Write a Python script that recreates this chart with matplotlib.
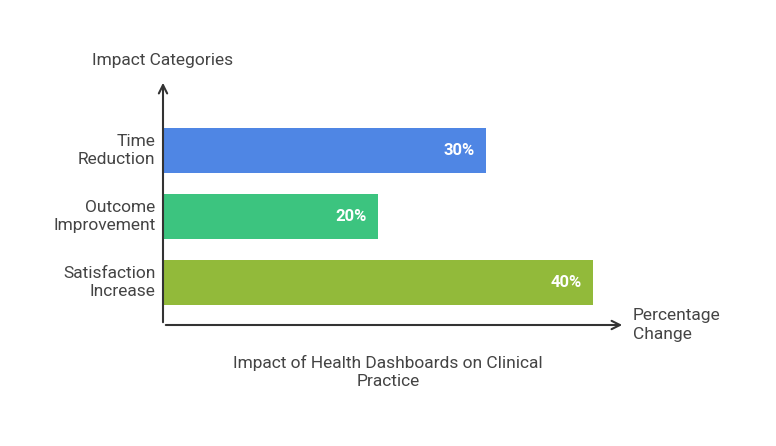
import matplotlib
matplotlib.use("Agg")
import matplotlib.pyplot as plt

categories = ["Time\nReduction", "Outcome\nImprovement", "Satisfaction\nIncrease"]
values = [30, 20, 40]
labels = ["30%", "20%", "40%"]
colors = ["#4F86E4", "#3CC47F", "#92BA3A"]

plt.rcParams['font.family'] = ['Roboto', 'DejaVu Sans']
W, H = 776, 446
fig = plt.figure(figsize=(W/100, H/100), dpi=100)
x0, x1, yb, yt = 163, 625, 325, 80
ax = fig.add_axes([x0/W, 1-yb/H, (x1-x0)/W, (yb-yt)/H])
ax.set_xlim(0, (x1-x0)/10.75)
ax.set_ylim((yb-150.5)/66, (yt-150.5)/66)
pos = list(range(len(values)))
ax.barh(pos, values, height=45/66, color=colors)
for p, v, l in zip(pos, values, labels):
    ax.text(v-1, p, l, ha="right", va="center", color="white", fontsize=12, fontweight="bold")
for p, c in zip(pos, categories):
    ax.text(-0.7, p, c, ha="right", va="center", color="#444444", fontsize=12.5, linespacing=1.3)
for s in ax.spines.values():
    s.set_visible(False)
ax.set_xticks([]); ax.set_yticks([])
ax.annotate("", xy=(1, 0), xytext=(0, 0), xycoords="axes fraction",
            arrowprops=dict(arrowstyle="->", color="#333333", lw=1.5, mutation_scale=15))
ax.annotate("", xy=(0, 1), xytext=(0, 0), xycoords="axes fraction",
            arrowprops=dict(arrowstyle="->", color="#333333", lw=1.5, mutation_scale=15))
fig.text(163/W, 1-61/H, "Impact Categories", ha="center", va="center", color="#444444", fontsize=12.5)
fig.text(633/W, 1-325/H, "Percentage\nChange", ha="left", va="center", color="#444444", fontsize=12.5, linespacing=1.3)
fig.text(388/W, 1-372/H, "Impact of Health Dashboards on Clinical\nPractice", ha="center", va="center",
         color="#444444", fontsize=12.5, linespacing=1.3)
fig.savefig("out.png", dpi=100)
